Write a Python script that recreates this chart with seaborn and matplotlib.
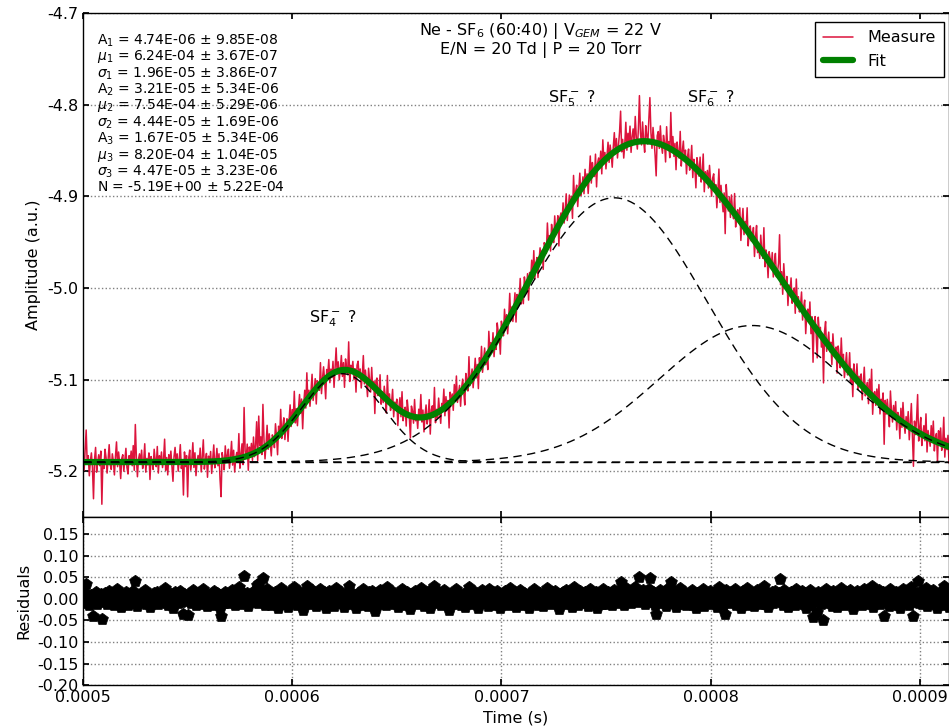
import numpy as np
import pandas as pd
import matplotlib
matplotlib.use("Agg")
import matplotlib.pyplot as plt
import matplotlib.ticker as mticker
import seaborn as sns

# ---------------- data ----------------
# fit parameters shown in the chart annotation
amplitudes = [4.74e-06, 3.21e-05, 1.67e-05]
centers = [6.24e-04, 7.54e-04, 8.20e-04]
widths = [1.96e-05, 4.44e-05, 4.47e-05]
baseline = -5.19

param_labels = [
    r"A$_1$ = 4.74E-06 $\pm$ 9.85E-08",
    r"$\mu_1$ = 6.24E-04 $\pm$ 3.67E-07",
    r"$\sigma_1$ = 1.96E-05 $\pm$ 3.86E-07",
    r"A$_2$ = 3.21E-05 $\pm$ 5.34E-06",
    r"$\mu_2$ = 7.54E-04 $\pm$ 5.29E-06",
    r"$\sigma_2$ = 4.44E-05 $\pm$ 1.69E-06",
    r"A$_3$ = 1.67E-05 $\pm$ 5.34E-06",
    r"$\mu_3$ = 8.20E-04 $\pm$ 1.04E-05",
    r"$\sigma_3$ = 4.47E-05 $\pm$ 3.23E-06",
    r"N = -5.19E+00 $\pm$ 5.22E-04",
]

# sampling of the trace (s)
time_start = 0.0005
time_step = 0.5e-6

# residuals (measure - fit), in units of 1e-3, estimated from the lower panel
residuals_milli = [
    4, -9, 13, 35, -2, 7, -15, 1, 10, -6, -40, 3, 16, -11, 0, 8, -4, 12, -46, 2,
    -7, 14, 5, -12, 3, 19, -3, -8, 9, 1, -14, 6, 22, -5, 11, -1, -18, 4, 8, -10,
    2, 15, -6, -13, 7, 0, 12, -4, 18, -9, 41, 5, -16, 3, 9, -2, 13, -7, 1, 20,
    -11, 4, -3, 10, -19, 6, 1, -8, 14, 2, -5, 17, -12, 7, -1, 11, -6, 3, 25, -9,
    5, -14, 8, 0, 12, -4, -21, 6, 16, -2, 9, -10, 3, 19, -7, 1, -36, 11, -5, 7,
    -38, 4, 13, -9, 2, 21, -6, 10, -15, 0, 7, -3, 15, -11, 5, 24, -8, 1, 9, -17,
    6, -2, 11, -13, 3, 18, -7, 0, 14, -5, 8, -20, -39, 9, 2, -10, 16, -1, 5, 12,
    -9, 3, 20, -6, 10, -14, 1, 7, -3, 27, -11, 4, 15, -8, 54, 6, -2, 13, -16, 9,
    0, 12, -7, 18, -4, 8, 33, -10, 38, 5, 14, -6, 48, 9, -13, 2, 22, -5, 11, -1,
    -15, 7, 3, -9, 16, 1, -20, 10, -3, 26, -7, 5, 13, -12, 0, 8, -18, 4, 19, -6,
    11, -2, 28, -8, 6, -14, 3, 17, -5, 9, -25, 1, 14, -7, 30, -3, 8, -11, 5, 21,
    -9, 2, 12, -17, 7, 0, -6, 23, -12, 4, 15, -1, -22, 9, 3, 18, -8, 6, -4, 13,
    -16, 5, 26, -3, 10, -10, 1, 16, -7, 8, -19, 12, 2, -5, 31, -12, 6, 0, 11, -8,
    4, -21, 9, 14, -3, 7, -13, 1, 24, -6, 10, -2, -17, 15, 3, -9, 19, -4, 6, -28,
    8, 13, -5, 0, 20, -11, 4, -7, 12, 2, -15, 27, -3, 9, -8, 1, 17, -12, 5, -1,
    10, -18, 3, 14, -6, 22, -9, 0, 7, -13, 16, 4, -2, -24, 11, 6, -7, 19, -4, 2,
    -12, 9, 1, 25, -5, 8, -16, 3, 13, -8, 0, 18, -20, 6, 10, -3, 29, -10, 4, -6,
    15, -1, -14, 7, 2, 21, -9, 11, -4, 5, -26, 12, 0, 8, -11, 16, -3, 23, -7, 1,
    9, -15, 4, 12, -2, -19, 14, 6, -8, 28, -5, 3, 10, -12, 1, 17, -6, 7, -21, 11,
    -3, 20, -10, 2, 13, -7, 5, -16, 24, 0, 8, -4, 15, -13, 3, -9, 18, 6, -1, -22,
    12, 4, -8, 19, -2, 9, -14, 1, 26, -6, 7, -11, 3, 16, -18, 10, -4, 0, 21, -9,
    5, -13, 14, 2, -7, 11, -20, 8, 0, 17, -5, 23, -10, 4, 9, -15, 1, 13, -3, 6,
    -17, 10, 3, -6, 25, -1, 7, -12, 15, 2, -9, 18, -4, 0, 12, -23, 6, 9, -2, 16,
    -8, 4, 20, -11, 1, 13, -5, 8, -18, 27, -3, 6, 11, -14, 2, 19, -7, 0, 10, -10,
    15, -4, 7, -16, 3, 22, -9, 12, 1, -6, 17, -20, 5, 9, -2, 14, -12, 24, -1, 8,
    -11, 2, 16, -7, 11, 0, -15, 6, 21, -3, 13, -9, 4, 18, 40, -5, 8, -13, 2, 25,
    -6, 12, 3, 19, -10, 7, 15, -2, 28, 5, -8, 14, 50, 9, -4, 21, 1, -12, 17, 6,
    -3, 24, 48, 10, -7, 16, 2, -14, -36, 8, 13, -5, 20, 0, -9, 11, 4, -17, 22, -1,
    7, -10, 40, 3, 15, -6, 9, -19, 12, 1, -4, 26, -11, 6, 18, -2, 10, -15, 5, 14,
    -8, 2, 21, -13, 8, 0, -21, 13, 5, -5, 17, -9, 3, 24, -16, 7, -1, 11, -7, 19,
    4, -12, 9, 15, -3, 6, -18, 1, 27, -8, 12, -2, -14, 8, -35, 20, 3, -6, 11, -10,
    16, 0, -7, 22, -13, 5, 9, -4, 14, -20, 2, 18, -9, 7, -1, 25, -15, 4, 10, -5,
    1, 13, -17, 6, 20, -8, 3, -11, 16, 0, -6, 29, -12, 8, 2, -19, 11, 5, -3, 15,
    -10, 7, 19, -5, 2, 13, 46, -7, 9, -14, 21, 3, -2, 12, -18, 6, 0, 17, -9, 4,
    11, -15, 24, -3, 8, -7, 1, 18, -11, 5, 14, -21, 2, 9, -4, 20, -13, 7, -41, 3,
    12, -6, -30, 16, 0, 8, -12, 4, -48, 10, 22, -9, 3, 15, -5, 7, -16, 19, 1, -2,
    9, -18, 13, 5, -8, 26, -1, 11, -13, 2, 17, -6, 0, 21, -10, 6, -23, 14, 3, -4,
    18, -9, 7, -2, 12, -15, 4, 23, -7, 1, 10, -12, 16, -3, 29, -19, 5, 8, -6, 13,
    -1, 20, -11, 6, 2, 15, -40, 9, -5, 12, 0, -16, 24, 3, -8, 11, -3, 17, -13, 7,
    4, -20, 14, -6, 22, 1, -10, 9, -2, 16, -14, 5, 27, -7, -40, 10, -4, 13, 41, -9,
    6, 18, -12, 2, 11, -5, 25, -16, 8, 0, -8, 15, -3, 21, -11, 4, 9, -21, 13, -1,
    17, -7, 3, 30, -13, 8, -4, 12, -18, 6,
]

peak_labels = [r"SF$_4^-$?", r"SF$_5^-$?", r"SF$_6^-$?"]
peak_label_x = [0.0006196, 0.000734, 0.000800]
peak_label_y = [-5.034, -4.794, -4.794]

title_text = "Ne - SF$_6$ (60:40) | V$_{GEM}$ = 22 V\nE/N = 20 Td | P = 20 Torr"

# ---------------- build table ----------------
n = len(residuals_milli)
time = time_start + time_step * np.arange(n)
resid = np.array(residuals_milli) * 1e-3

components = []
for A, mu, s in zip(amplitudes, centers, widths):
    components.append(A / (s * np.sqrt(2 * np.pi)) * np.exp(-0.5 * ((time - mu) / s) ** 2))
fit = baseline + np.sum(components, axis=0)
measure = fit + resid

df = pd.DataFrame({"time": time, "measure": measure, "fit": fit, "resid": resid})

# ---------------- style ----------------
sns.set_theme(style="white")
plt.rcParams["font.family"] = ["DejaVu Sans"]
plt.rcParams["mathtext.fontset"] = "dejavusans"
for key in ["text.color", "axes.labelcolor", "xtick.color", "ytick.color", "axes.edgecolor"]:
    plt.rcParams[key] = "black"
plt.rcParams["axes.linewidth"] = 1.0

fig = plt.figure(figsize=(9.49, 7.28), dpi=100)
gs = fig.add_gridspec(2, 1, height_ratios=[3, 1], hspace=0,
                      left=0.0875, right=1.0, top=0.982, bottom=0.059)
ax = fig.add_subplot(gs[0])
axr = fig.add_subplot(gs[1], sharex=ax)

# top panel
sns.lineplot(data=df, x="time", y="measure", ax=ax, color="crimson", lw=1.1,
             label="Measure", estimator=None, sort=False)
sns.lineplot(data=df, x="time", y="fit", ax=ax, color="green", lw=4.5,
             label="Fit", estimator=None, sort=False)
dash = (0, (6, 4))
for comp in components:
    sns.lineplot(x=df["time"], y=baseline + comp, ax=ax, color="black", lw=1.0,
                 linestyle=dash, estimator=None, sort=False, legend=False)
sns.lineplot(x=df["time"], y=np.full(n, baseline), ax=ax, color="black", lw=1.0,
             linestyle=dash, estimator=None, sort=False, legend=False)

ax.set_xlim(0.0005, 0.000914)
ax.set_ylim(-5.25, -4.7)
ax.yaxis.set_major_locator(mticker.MultipleLocator(0.1))
ax.yaxis.set_major_formatter(mticker.FormatStrFormatter("%.1f"))
ax.grid(axis="y", linestyle=":", color="0.5", lw=1.0)
ax.grid(axis="x", visible=False)
ax.set_ylabel("Amplitude (a.u.)", fontsize=11.5)
ax.set_xlabel("")
ax.tick_params(axis="x", labelbottom=False)
ax.tick_params(axis="both", labelsize=11.5, direction="in", length=4,
               top=True, right=True, bottom=True, left=True)

ax.text(0.016, 0.962, "\n".join(param_labels), transform=ax.transAxes,
        ha="left", va="top", fontsize=10, linespacing=0.98)
ax.text(0.528, 0.985, title_text, transform=ax.transAxes, ha="center", va="top",
        fontsize=11.5, linespacing=1.1)
for lab, xx, yy in zip(peak_labels, peak_label_x, peak_label_y):
    ax.text(xx, yy, lab.replace("?", " ?"), ha="center", va="center", fontsize=11.5)

leg = ax.legend(loc="upper right", bbox_to_anchor=(0.9942, 0.982), fontsize=11.5,
                frameon=True, fancybox=False, edgecolor="black", framealpha=1,
                handlelength=1.9, handletextpad=0.9, borderaxespad=0.0,
                borderpad=0.5, labelspacing=0.55)
leg.get_frame().set_linewidth(1.0)

# residual panel
sns.scatterplot(data=df, x="time", y="resid", ax=axr, color="black", marker="p",
                s=80, edgecolor="black", linewidth=0.5, legend=False)
axr.set_ylim(-0.2, 0.19)
axr.yaxis.set_major_locator(mticker.MultipleLocator(0.05))
axr.yaxis.set_major_formatter(mticker.FormatStrFormatter("%.2f"))
axr.xaxis.set_major_locator(mticker.MultipleLocator(0.0001))
axr.xaxis.set_major_formatter(mticker.FormatStrFormatter("%.4f"))
axr.grid(True, linestyle=":", color="0.5", lw=1.0)
axr.set_ylabel("Residuals", fontsize=11.5)
axr.set_xlabel("Time (s)", fontsize=11.5)
axr.tick_params(axis="both", labelsize=11.5, direction="in", length=4,
                top=True, right=True, bottom=True, left=True)
axr.set_xlim(0.0005, 0.000914)

fig.savefig("out.png", dpi=100)
